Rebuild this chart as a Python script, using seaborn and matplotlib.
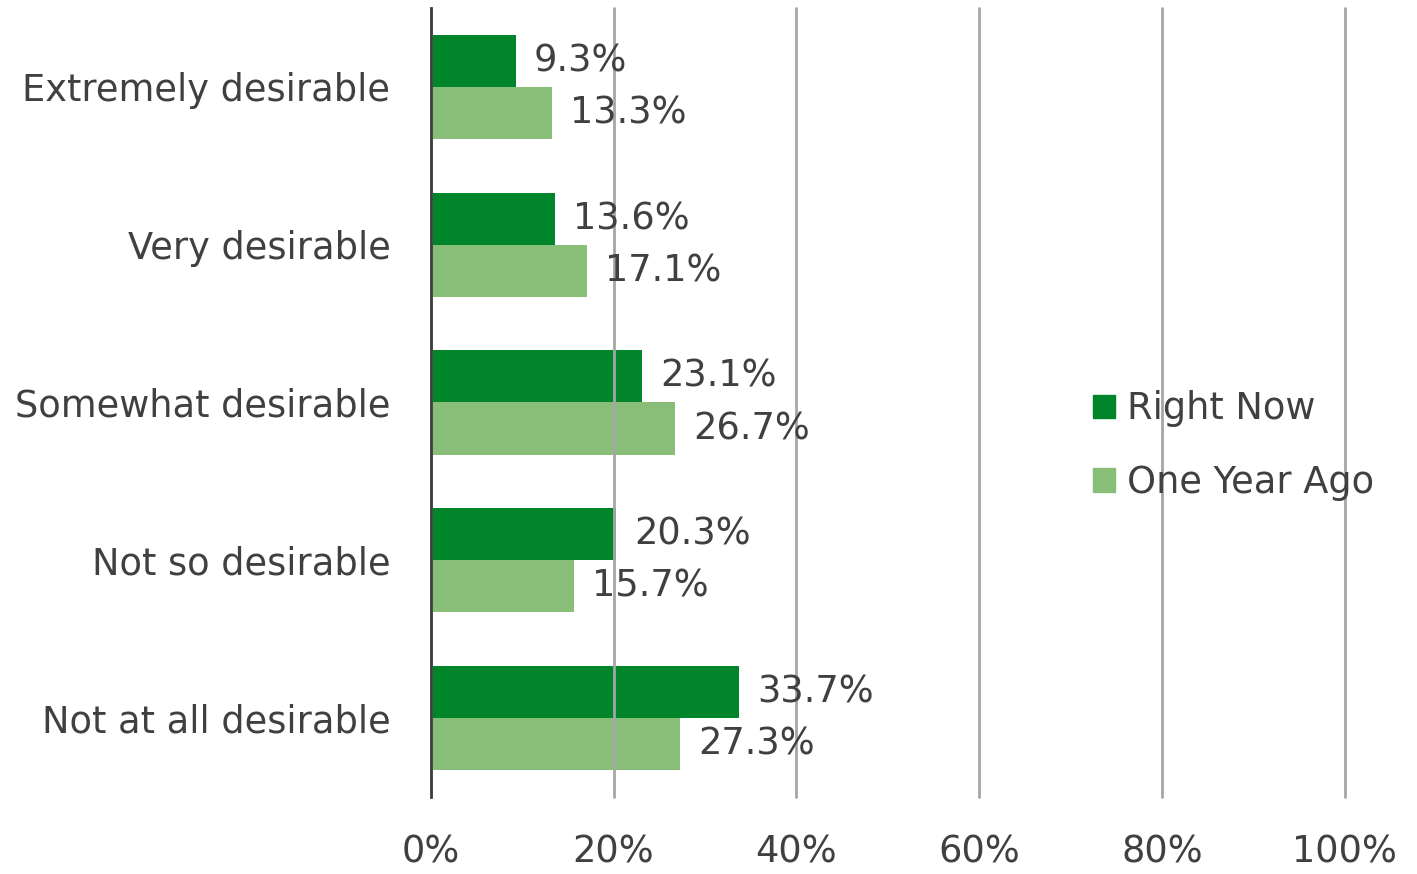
import matplotlib
matplotlib.use("Agg")
import matplotlib.pyplot as plt
import seaborn as sns
import pandas as pd
from matplotlib.patches import Patch

categories = ["Extremely desirable", "Very desirable", "Somewhat desirable",
              "Not so desirable", "Not at all desirable"]
right_now = [9.3, 13.6, 23.1, 20.3, 33.7]
one_year_ago = [13.3, 17.1, 26.7, 15.7, 27.3]
series = ["Right Now", "One Year Ago"]
colors = ["#00852A", "#88BE78"]
xticks = [0, 20, 40, 60, 80, 100]

df = pd.DataFrame({
    "category": categories * 2,
    "value": right_now + one_year_ago,
    "series": [series[0]] * len(categories) + [series[1]] * len(categories),
})

sns.set_style("white")
plt.rcParams["font.family"] = ["DejaVu Sans"]
text_color = "#404040"
fs = 26.5

fig = plt.figure(figsize=(14.17, 8.74), dpi=100)
ax = fig.add_axes([0.304, 0.088, 0.645, 0.903])

sns.barplot(data=df, x="value", y="category", hue="series", order=categories,
            hue_order=series, palette=colors, width=0.66, ax=ax,
            legend=False, saturation=1, linewidth=0, zorder=2)

ax.set_xlim(0, 100)
ax.set_ylim(4.5, -0.5)
ax.set_xticks(xticks)
ax.set_xticklabels([f"{t}%" for t in xticks], fontsize=fs, color=text_color)
ax.tick_params(axis="y", labelsize=fs, labelcolor=text_color, length=0, pad=29)
ax.tick_params(axis="x", length=0, pad=26)
ax.set_xlabel("")
ax.set_ylabel("")
ax.grid(axis="x", color="#A6A6A6", linewidth=2, zorder=3)
ax.set_axisbelow(False)
for gl in ax.get_xgridlines():
    gl.set_clip_on(False)
for s in ["top", "right", "bottom"]:
    ax.spines[s].set_visible(False)
ax.spines["left"].set_color(text_color)
ax.spines["left"].set_linewidth(2)
ax.spines["left"].set_zorder(5)

for container in ax.containers:
    ax.bar_label(container, labels=[f"{v:.1f}%" for v in container.datavalues],
                 padding=13, fontsize=fs, color=text_color, zorder=6)

handles = [Patch(facecolor=c, edgecolor=c, label=l) for c, l in zip(colors, series)]
fig.legend(handles=handles, loc="center left", bbox_to_anchor=(0.771, 0.49),
           frameon=False, fontsize=fs, labelcolor=text_color,
           borderpad=0, borderaxespad=0,
           handlelength=0.6, handleheight=0.6, handletextpad=0.35, labelspacing=1.0)

fig.savefig("out.png", dpi=100)
